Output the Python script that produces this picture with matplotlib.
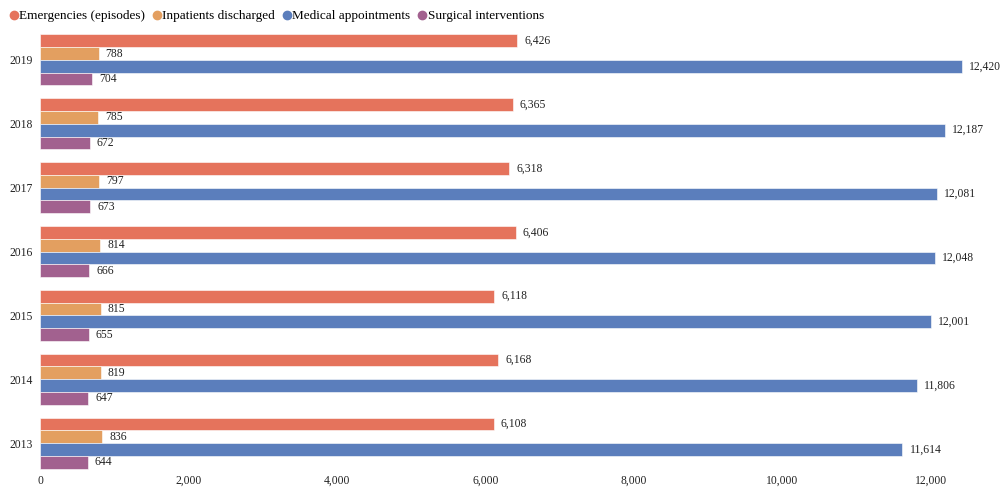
import numpy as np
import matplotlib.pyplot as plt
from matplotlib.lines import Line2D

plt.rcParams['font.family'] = ['Liberation Serif', 'DejaVu Serif']

years = ["2019", "2018", "2017", "2016", "2015", "2014", "2013"]
series_names = ["Emergencies (episodes)", "Inpatients discharged",
                "Medical appointments", "Surgical interventions"]
emergencies = [6426, 6365, 6318, 6406, 6118, 6168, 6108]
inpatients = [788, 785, 797, 814, 815, 819, 836]
appointments = [12420, 12187, 12081, 12048, 12001, 11806, 11614]
surgeries = [704, 672, 673, 666, 655, 647, 644]
colors = ["#E5735C", "#E39F60", "#5B7EBC", "#A2618F"]
x_ticks = [0, 2000, 4000, 6000, 8000, 10000, 12000]

fig = plt.figure(figsize=(10.03, 4.88), dpi=100)
W, H = 1003, 488
ax = fig.add_axes([40 / W, 13 / H, (975.6 - 40) / W, (475 - 13 - 15) / H])

data = [emergencies, inpatients, appointments, surgeries]
n = len(years)
centers = np.arange(n)
bar_h = 0.2
offsets = np.array([-1.5, -0.5, 0.5, 1.5]) * bar_h

for vals, off, col in zip(data, offsets, colors):
    ys = centers + off
    ax.barh(ys, vals, height=bar_h, color=col, edgecolor='white', linewidth=0.4)
    for y, v in zip(ys, vals):
        ax.text(v + 95, y, f"{v:,}", va='center', ha='left', fontsize=8.4, color='#222222')

ax.set_ylim(n - 0.5, -0.5)
ax.set_xlim(0, 12600)
ax.set_yticks(centers)
ax.set_yticklabels(years, fontsize=8.4)
ax.set_xticks(x_ticks)
ax.set_xticklabels([f"{t:,}" for t in x_ticks], fontsize=8.4)
ax.tick_params(axis='y', length=0, pad=5, colors='#222222')
ax.tick_params(axis='x', length=0, pad=0, colors='#222222')
for s in ax.spines.values():
    s.set_visible(False)

handles = [Line2D([0], [0], marker='o', linestyle='none', markersize=6,
                  markerfacecolor=c, markeredgecolor=c) for c in colors]
fig.legend(handles, series_names, loc='upper left',
           bbox_to_anchor=(8.7 / W, 1 - 10 / H),
           ncol=4, frameon=False, fontsize=9.5, handlelength=0.8, handletextpad=0.0,
           columnspacing=0.5, borderaxespad=0, borderpad=0)

fig.savefig("out.png", dpi=100)
